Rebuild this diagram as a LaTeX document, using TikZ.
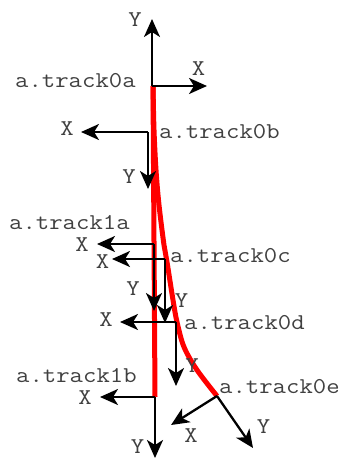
\documentclass[tikz,border=0pt]{standalone}
\usepackage{fontspec}
\newfontfamily\courlike{Latin Modern Mono}[FakeStretch=1.15]
\usetikzlibrary{arrows.meta}
\tikzset{
  axis/.style={line width=2.3pt, black, -{Stealth[length=18pt,width=16pt,inset=5pt]}},
  trackline/.style={line width=5pt, red},
  lbl/.style={inner sep=0pt, text=black!75, font=\courlike\fontsize{22.6}{27}\selectfont},
  framename/.style={lbl, anchor=base west},
}
\begin{document}
\begin{tikzpicture}[x=1pt,y=-1pt]
\useasboundingbox (0,0) rectangle (345,458);
% origins
\coordinate (o0a) at (152,86);
\coordinate (o0b) at (148,132);
\coordinate (o1a) at (154,244);
\coordinate (o0c) at (165,259);
\coordinate (o0d) at (176,322);
\coordinate (o1b) at (155,397);
\coordinate (o0e) at (217,396);
% tips
\coordinate (y0a) at (152,19);  \coordinate (x0a) at (207,86);
\coordinate (x0b) at (81,132);  \coordinate (y0b) at (148,189);
\coordinate (x1a) at (97,244);  \coordinate (y1a) at (154,311);
\coordinate (x0c) at (112,259); \coordinate (y0c) at (165,323);
\coordinate (x0d) at (120,322); \coordinate (y0d) at (176,386);
\coordinate (x1b) at (100,397); \coordinate (y1b) at (155,458);
\coordinate (x0e) at (171,425); \coordinate (y0e) at (253,448);
% red tracks
\coordinate (r1s) at (153,86);
\coordinate (r1e) at (155,397);
\draw[trackline] (r1s) -- (r1e);
\draw[trackline, line join=round] plot[smooth, tension=0.55] coordinates
  {(153,86) (154,130) (156,170) (159,205) (164,245) (167,262) (173,300) (177,322) (184,347) (197,370) (217,396)};
% axes
\draw[axis] (o0a) -- (y0a);
\draw[axis] (o0a) -- (x0a);
\draw[axis] (o0b) -- (x0b);
\draw[axis] (o0b) -- (y0b);
\draw[axis] (o1a) -- (x1a);
\draw[axis] (o1a) -- (y1a);
\draw[axis] (o0c) -- (x0c);
\draw[axis] (o0c) -- (y0c);
\draw[axis] (o0d) -- (x0d);
\draw[axis] (o0d) -- (y0d);
\draw[axis] (o1b) -- (x1b);
\draw[axis] (o1b) -- (y1b);
\draw[axis] (o0e) -- (x0e);
\draw[axis] (o0e) -- (y0e);
% frame names
\node[framename] (n0a) at (15,87) {a.track0a};
\node[framename] (n0b) at (159,138) {a.track0b};
\node[framename] (n1a) at (9,229) {a.track1a};
\node[framename] (n0c) at (170,262) {a.track0c};
\node[framename] (n0d) at (184,329) {a.track0d};
\node[framename] (n1b) at (16,382) {a.track1b};
\node[framename] (n0e) at (219,393) {a.track0e};
% axis letters
\node[lbl] (ly0a) at (135,19.5) {Y};
\node[lbl] (lx0a) at (198.5,68.5) {X};
\node[lbl] (lx0b) at (67,128.5) {X};
\node[lbl] (ly0b) at (129,176.5) {Y};
\node[lbl] (lx1a) at (82,245) {X};
\node[lbl] (lx0c) at (102.5,262) {X};
\node[lbl] (ly1a) at (133,289) {Y};
\node[lbl] (ly0c) at (181.5,300.5) {Y};
\node[lbl] (lx0d) at (106,319.5) {X};
\node[lbl] (ly0d) at (192,366) {Y};
\node[lbl] (lx1b) at (85,397.5) {X};
\node[lbl] (ly1b) at (137.5,447) {Y};
\node[lbl] (lx0e) at (191,436) {X};
\node[lbl] (ly0e) at (263.5,426.5) {Y};
\end{tikzpicture}
\end{document}
